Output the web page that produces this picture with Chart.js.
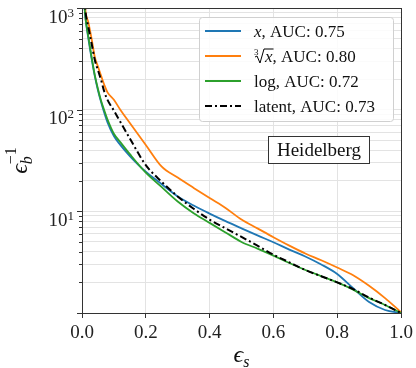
<!DOCTYPE html>
<html>
<head>
<meta charset="utf-8">
<script src="https://cdn.jsdelivr.net/npm/chart.js@4.4.0/dist/chart.umd.min.js"></script>
<style>
  body { margin: 0; background: #fff; }
  #roc { display: block; }
</style>
</head>
<body>
<canvas id="roc" width="416" height="368"></canvas>
<script>
// eficiencia de señal (eje x) y rechazo de fondo 1/eps_b (eje y, log)
const effS = [0.003, 0.01, 0.02, 0.03, 0.04, 0.05, 0.06, 0.07, 0.08, 0.1, 0.12, 0.15, 0.2, 0.25, 0.3,
              0.35, 0.4, 0.45, 0.5, 0.55, 0.6, 0.65, 0.7, 0.75, 0.8, 0.85, 0.9, 0.95, 1.0];

const rejX      = [1800, 850, 500, 320, 215, 155, 118, 93, 75, 55, 45, 35, 24.5, 18.5, 14.0,
                   11.4, 9.5, 8.0, 6.8, 5.8, 4.97, 4.2, 3.6, 3.0, 2.42, 1.75, 1.28, 1.07, 1.0];
const rejCbrt   = [2500, 1000, 720, 500, 330, 265, 215, 175, 148, 125, 100, 74, 45, 27.5, 21.5,
                   17, 13.5, 10.8, 8.3, 6.8, 5.57, 4.6, 3.85, 3.3, 2.8, 2.35, 1.85, 1.4, 1.02];
const rejLog    = [1800, 850, 520, 330, 220, 160, 122, 98, 80, 58, 48, 36.5, 24, 17.3, 12.5,
                   9.6, 7.7, 6.2, 5.0, 4.3, 3.67, 3.1, 2.65, 2.3, 2.0, 1.7, 1.4, 1.2, 1.0];
const rejLatent = [2500, 1000, 650, 450, 310, 245, 195, 150, 125, 98, 76, 52, 28.5, 19.5, 14,
                   10.6, 8.3, 6.8, 5.6, 4.6, 3.75, 3.15, 2.65, 2.3, 2.0, 1.72, 1.42, 1.2, 1.0];

const seriesNames = ['x', '∛x', 'log', 'latent'];
const aucValues = [0.75, 0.80, 0.72, 0.73];
const xTicks = [0, 0.2, 0.4, 0.6, 0.8, 1.0];
const yDecades = [1, 10, 100, 1000];
const yLabeled = [10, 100, 1000];
const datasetName = 'Heidelberg';

const colores = ['#1f77b4', '#ff7f0e', '#2ca02c', '#000000'];
const dashDot = [7, 3, 2, 3];
const serif = '"Liberation Serif", "DejaVu Serif", serif';

// ticks menores del eje log: 1..9 por cada década
const yTickValues = [];
yDecades.forEach(d => {
    if (d === 1000) { yTickValues.push(d); return; }
    for (let m = 1; m < 10; m++) yTickValues.push(d * m);
});

function puntos(valores) {
    return effS.map((x, i) => ({ x: x, y: valores[i] }));
}

const series = [rejX, rejCbrt, rejLog, rejLatent];
const datasets = series.map((vals, i) => ({
    label: seriesNames[i],
    data: puntos(vals),
    borderColor: colores[i],
    borderWidth: i === 3 ? 2 : 1.8,
    borderDash: i === 3 ? dashDot : [],
    pointRadius: 0,
    cubicInterpolationMode: 'monotone',
    order: 4 - i
}));

// texto con partes en cursiva / subíndices
function dibujarPartes(ctx, x, y, partes) {
    partes.forEach(p => {
        ctx.font = (p.italic ? 'italic ' : '') + p.size + 'px ' + serif;
        ctx.fillText(p.text, x, y + (p.dy || 0));
        if (!p.stack) x += ctx.measureText(p.text).width;
    });
    return x;
}

function dibujarEtiquetaLeyenda(ctx, x, y, nombre, auc) {
    const resto = ', AUC: ' + auc.toFixed(2);
    if (nombre === 'x') {
        x = dibujarPartes(ctx, x, y, [{ text: 'x', italic: true, size: 17 }]);
    } else if (nombre === '∛x') {
        // raíz cúbica dibujada a mano
        ctx.font = '9px ' + serif;
        ctx.fillText('3', x, y - 7);
        ctx.font = 'italic 17px ' + serif;
        const wx = ctx.measureText('x').width;
        ctx.beginPath();
        ctx.lineWidth = 1;
        ctx.strokeStyle = '#000';
        ctx.moveTo(x + 1, y - 5);
        ctx.lineTo(x + 3, y - 6);
        ctx.lineTo(x + 6, y + 1);
        ctx.lineTo(x + 10, y - 13);
        ctx.lineTo(x + 11 + wx + 1, y - 13);
        ctx.stroke();
        ctx.fillText('x', x + 11, y);
        x += 11 + wx;
    } else {
        x = dibujarPartes(ctx, x, y, [{ text: nombre, size: 17 }]);
    }
    dibujarPartes(ctx, x, y, [{ text: resto, size: 17 }]);
}

const decorPlugin = {
    id: 'decor',
    afterDatasetsDraw(chart) {
        const { ctx, chartArea: a, scales } = chart;
        const yS = scales.y;
        ctx.save();

        // marco
        ctx.strokeStyle = '#333';
        ctx.lineWidth = 1;
        ctx.strokeRect(Math.round(a.left) + 0.5, Math.round(a.top) + 0.5,
                       Math.round(a.right - a.left), Math.round(a.bottom - a.top));

        // ticks del eje y (mayores y menores)
        ctx.beginPath();
        yTickValues.forEach(v => {
            const py = Math.round(yS.getPixelForValue(v)) + 0.5;
            const len = yDecades.includes(v) ? 5 : 3;
            ctx.moveTo(a.left - len, py);
            ctx.lineTo(a.left, py);
        });
        ctx.stroke();

        // etiquetas 10^n
        ctx.fillStyle = '#222';
        ctx.textAlign = 'left';
        ctx.textBaseline = 'alphabetic';
        yLabeled.forEach(v => {
            const py = yS.getPixelForValue(v);
            const exp = String(Math.round(Math.log10(v)));
            ctx.font = '13px ' + serif;
            const we = ctx.measureText(exp).width;
            ctx.font = '19px ' + serif;
            const wb = ctx.measureText('10').width;
            const xr = a.left - 8;
            ctx.fillText('10', xr - we - wb, py + 14.5);
            ctx.font = '13px ' + serif;
            ctx.fillText(exp, xr - we, py + 8.5);
        });

        // título eje x
        ctx.fillStyle = '#111';
        const cx = (a.left + a.right) / 2;
        ctx.font = 'italic 24px ' + serif;
        const wEps = ctx.measureText('ϵ').width;
        ctx.font = 'italic 16px ' + serif;
        const wS = ctx.measureText('s').width;
        let x0 = cx - (wEps + wS) / 2;
        dibujarPartes(ctx, x0, 362, [
            { text: 'ϵ', italic: true, size: 24 },
            { text: 's', italic: true, size: 16, dy: 5 }
        ]);

        // título eje y (rotado)
        ctx.save();
        ctx.translate(27, (a.top + a.bottom) / 2);
        ctx.rotate(-Math.PI / 2);
        ctx.font = 'italic 24px ' + serif;
        const wE2 = ctx.measureText('ϵ').width;
        ctx.font = '16px ' + serif;
        const wM = ctx.measureText('−1').width;
        x0 = -(wE2 + wM) / 2;
        dibujarPartes(ctx, x0, 0, [
            { text: 'ϵ', italic: true, size: 24 },
            { text: 'b', italic: true, size: 16, dy: 5, stack: true },
            { text: '−1', size: 16, dy: -11 }
        ]);
        ctx.restore();

        // leyenda
        const lx = a.right - 202, ly = a.top + 9, lw = 194, lh = 104;
        ctx.beginPath();
        ctx.roundRect(lx + 0.5, ly + 0.5, lw, lh, 3);
        ctx.fillStyle = 'rgba(255,255,255,0.85)';
        ctx.fill();
        ctx.strokeStyle = '#d0d0d0';
        ctx.stroke();
        seriesNames.forEach((nombre, i) => {
            const ry = ly + 14 + i * 25;
            ctx.beginPath();
            ctx.strokeStyle = colores[i];
            ctx.lineWidth = i === 3 ? 2 : 1.8;
            ctx.setLineDash(i === 3 ? dashDot : []);
            ctx.moveTo(lx + 6, ry);
            ctx.lineTo(lx + 42, ry);
            ctx.stroke();
            ctx.setLineDash([]);
            ctx.fillStyle = '#111';
            dibujarEtiquetaLeyenda(ctx, lx + 55, ry + 6, nombre, aucValues[i]);
        });

        // caja del dataset
        const bx = a.right - 133, by = a.top + 128, bw = 101, bh = 27;
        ctx.fillStyle = '#fff';
        ctx.fillRect(bx, by, bw, bh);
        ctx.strokeStyle = '#333';
        ctx.lineWidth = 1;
        ctx.strokeRect(bx + 0.5, by + 0.5, bw, bh);
        ctx.fillStyle = '#111';
        ctx.font = '19px ' + serif;
        ctx.textAlign = 'center';
        ctx.fillText(datasetName, bx + bw / 2 + 0.5, by + bh / 2 + 6.5);

        ctx.restore();
    }
};

new Chart(document.getElementById('roc'), {
    type: 'line',
    data: { datasets: datasets },
    options: {
        responsive: false,
        animation: false,
        layout: { padding: { left: 0, right: 15, top: 8, bottom: 0 } },
        plugins: {
            legend: { display: false },
            tooltip: { enabled: false }
        },
        scales: {
            x: {
                type: 'linear',
                min: 0,
                max: 1,
                afterBuildTicks: s => { s.ticks = xTicks.map(v => ({ value: v })); },
                ticks: {
                    callback: v => v.toFixed(1),
                    font: { family: serif, size: 19 },
                    color: '#222',
                    padding: 4,
                    maxRotation: 0
                },
                grid: { color: '#e3e3e3', tickColor: '#333', tickLength: 5 },
                border: { display: false },
                afterFit: s => { s.height = 55; s.paddingLeft = 0; s.paddingRight = 0; }
            },
            y: {
                type: 'logarithmic',
                min: 1,
                max: 1000,
                afterBuildTicks: s => { s.ticks = yTickValues.map(v => ({ value: v })); },
                ticks: { display: false },
                grid: { color: '#e3e3e3', drawTicks: false },
                border: { display: false },
                afterFit: s => { s.width = 82; s.paddingTop = 0; s.paddingBottom = 0; }
            }
        }
    },
    plugins: [decorPlugin]
});
</script>
</body>
</html>
